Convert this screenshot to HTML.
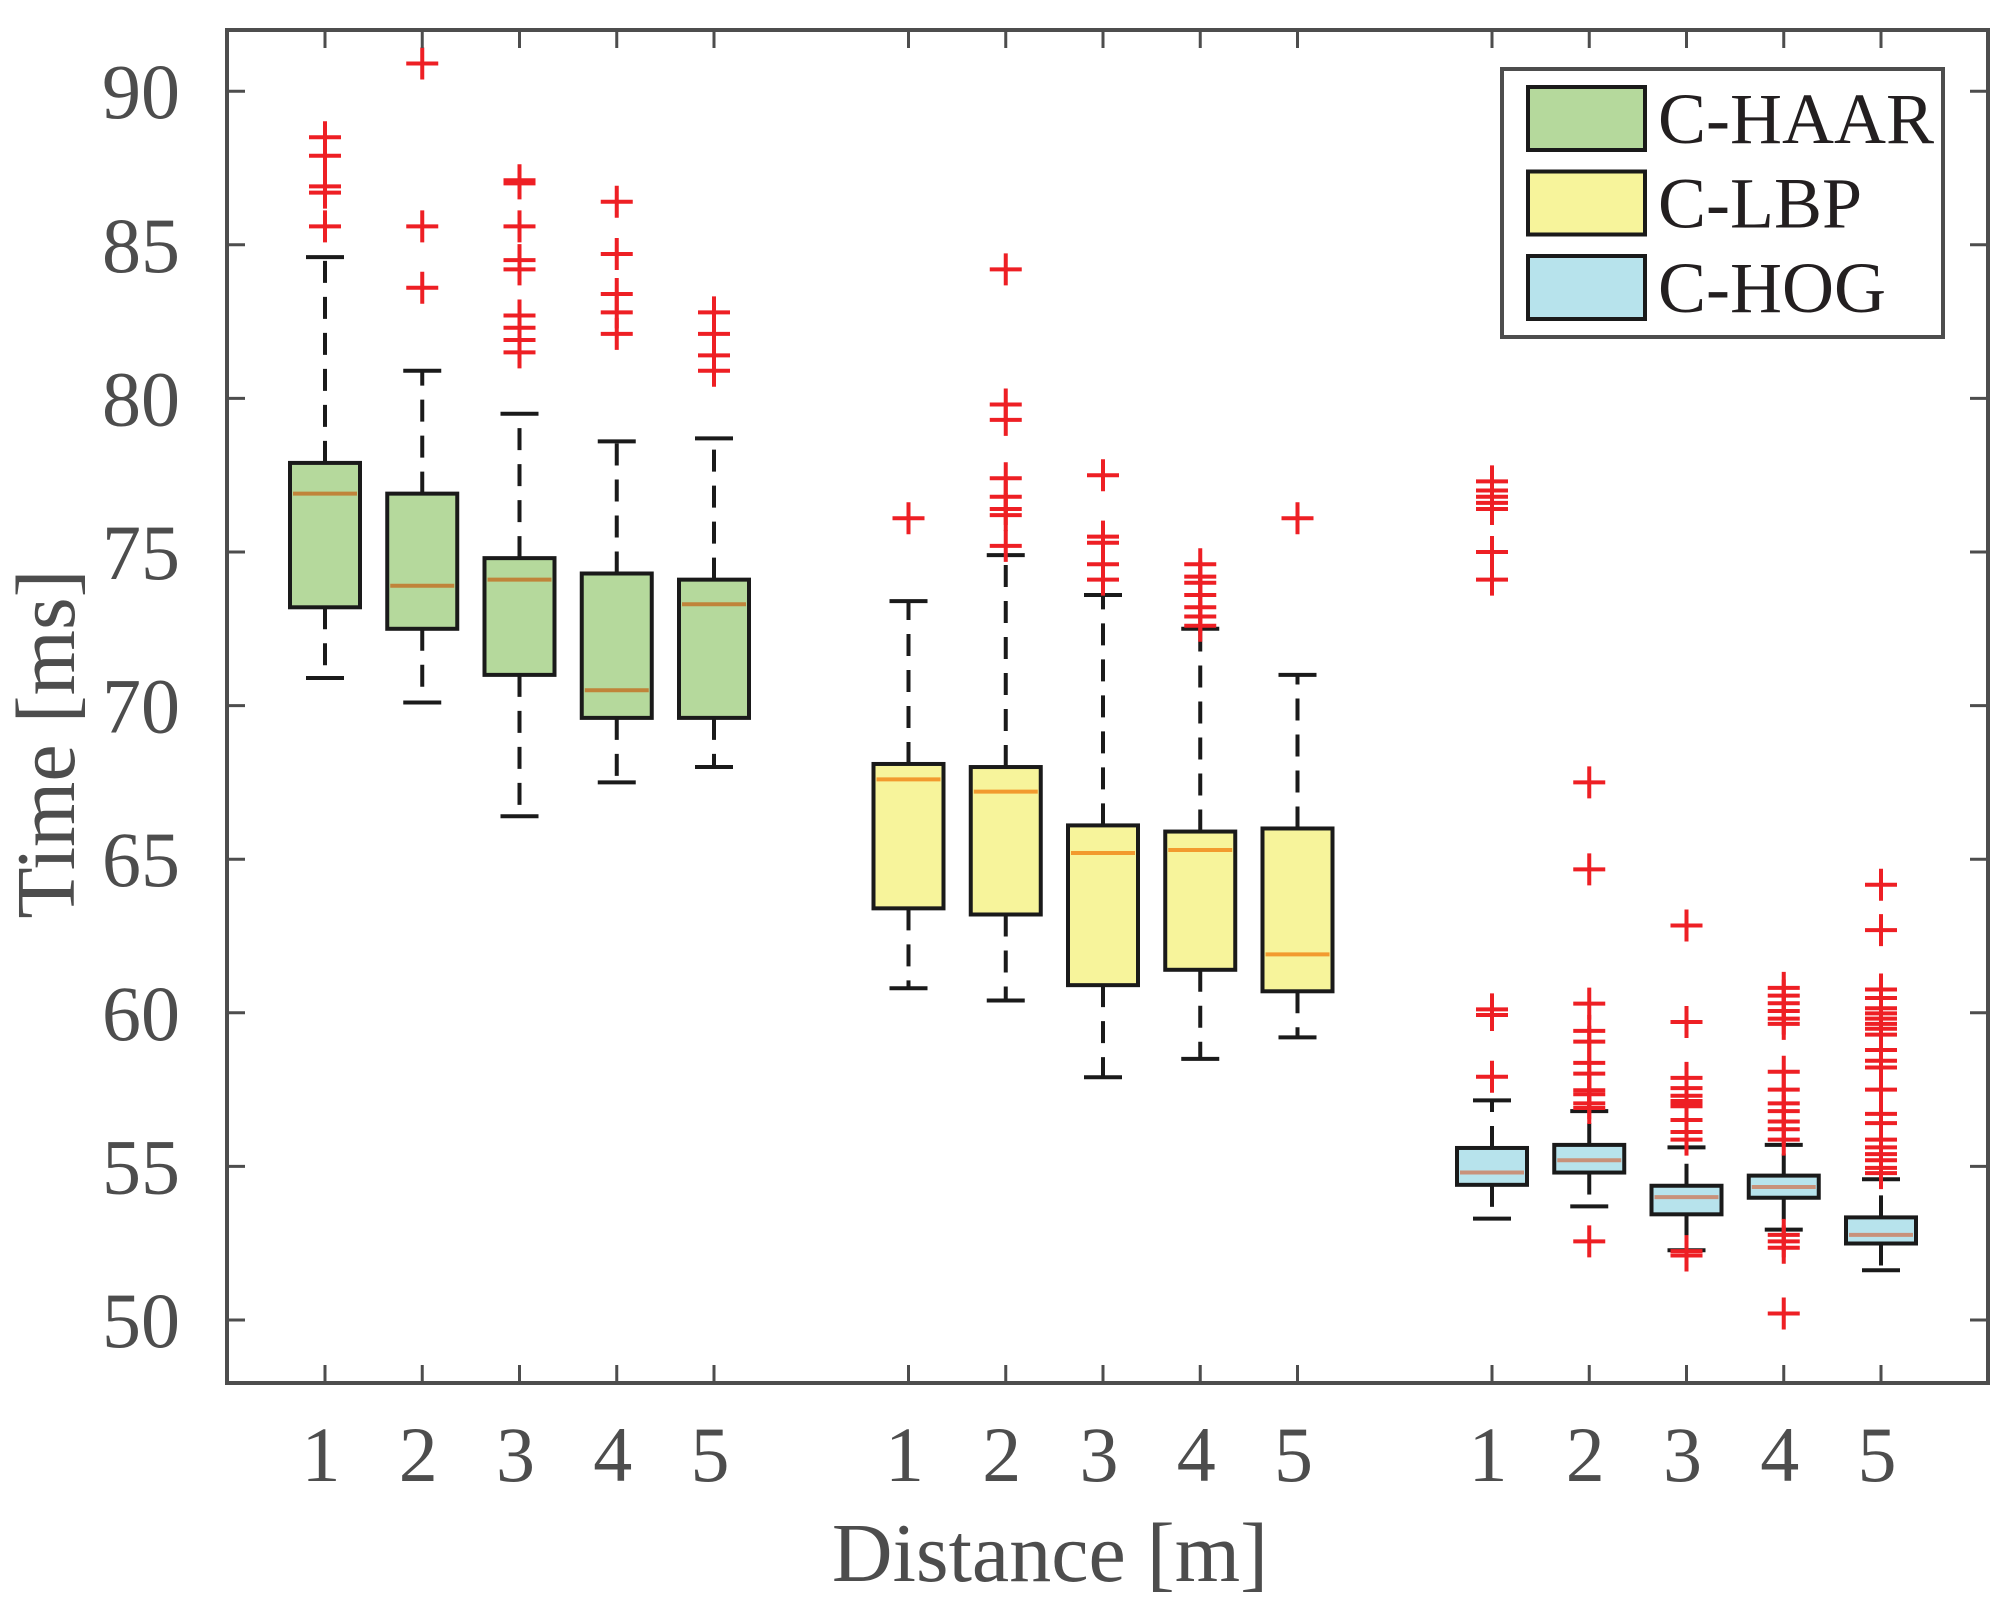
<!DOCTYPE html>
<html><head><meta charset="utf-8"><style>
html,body{margin:0;padding:0;background:#fff;}
svg text{font-family:"Liberation Serif",serif;fill:#4d4d4d;}
</style></head><body>
<svg id="chart" width="1999" height="1607" viewBox="0 0 1999 1607" xmlns="http://www.w3.org/2000/svg">
<rect width="1999" height="1607" fill="#fff"/>
<g id="plot"></g>
</svg>
<script>
const groupNames = ["C-HAAR","C-LBP","C-HOG"];
const xTickLabels = ["1","2","3","4","5"];
const yTicks = [50,55,60,65,70,75,80,85,90];
// each box: [whiskerLow, q1, median, q3, whiskerHigh]
const haarStats = [[70.9,73.2,76.9,77.9,84.6],[70.1,72.5,73.9,76.9,80.9],[66.4,71.0,74.1,74.8,79.5],[67.5,69.6,70.5,74.3,78.6],[68.0,69.6,73.3,74.1,78.7]];
const lbpStats = [[60.8,63.4,67.6,68.1,73.4],[60.4,63.2,67.2,68.0,74.9],[57.9,60.9,65.2,66.1,73.6],[58.5,61.4,65.3,65.9,72.5],[59.2,60.7,61.9,66.0,71.0]];
const hogStats = [[53.3,54.4,54.8,55.6,57.15],[53.7,54.8,55.2,55.7,56.8],[52.27,53.44,54.0,54.37,55.62],[52.94,53.98,54.33,54.7,55.7],[51.62,52.49,52.77,53.34,54.58]];
const haarOutliers = [[85.6,86.7,86.9,87.9,88.5],[83.6,85.6,90.9],[81.5,81.9,82.3,82.7,84.2,84.5,85.6,87.0,87.1],[82.1,82.8,83.4,84.7,86.4],[80.9,81.4,82.1,82.8]];
const lbpOutliers = [[76.1],[75.2,76.2,76.4,76.8,77.4,79.3,79.8,84.2],[74.1,74.6,75.3,75.5,77.5],[72.6,72.9,73.2,73.6,74.0,74.2,74.6],[76.1]];
const hogOutliers = [
 [57.92,59.93,60.11,74.1,75.0,76.4,76.6,76.8,77.0,77.3],
 [52.56,56.9,57.05,57.35,57.48,58.02,58.37,59.06,59.41,60.3,64.67,67.5],
 [52.1,52.24,55.87,56.12,56.51,56.96,57.05,57.13,57.3,57.55,57.88,59.7,62.84],
 [50.21,52.35,52.56,52.77,55.87,56.21,56.46,56.8,57.05,57.5,58.08,59.64,59.81,60.06,60.31,60.56,60.81],
 [54.78,54.95,55.2,55.4,55.62,55.87,56.41,56.71,57.5,58.22,58.44,58.79,59.29,59.48,59.64,59.81,59.98,60.15,60.48,60.76,62.69,64.17]];

const L=227,R=1988,T=30,B=1383;
function xs(p){return 325+(p-1)*97.25;}
function ys(v){return 1320-(v-50)*30.72;}
const NS="http://www.w3.org/2000/svg";
const plot=document.getElementById('plot');
function mk(tag,attrs,parent){const e=document.createElementNS(NS,tag);for(const k in attrs)e.setAttribute(k,attrs[k]);(parent||plot).appendChild(e);return e;}

const fills=["#b5d99c","#f7f49b","#b7e3ec"];
const medCols=["#c0843a","#f29a2e","#c8917a"];
const statsAll=[haarStats,lbpStats,hogStats];
const outAll=[haarOutliers,lbpOutliers,hogOutliers];
const hw=35;
const capw=19;

statsAll.forEach((grp,g)=>{
  grp.forEach((s,i)=>{
    const p=g*6+i+1; const cx=xs(p);
    const G=mk('g',{});
    
    
    mk('line',{x1:cx,x2:cx,y1:ys(s[3]),y2:ys(s[4]),stroke:'#1a1a1a','stroke-width':4,'stroke-dasharray':'22,14'},G);
    mk('line',{x1:cx,x2:cx,y1:ys(s[1]),y2:ys(s[0]),stroke:'#1a1a1a','stroke-width':4,'stroke-dasharray':'22,14'},G);
    mk('line',{x1:cx-capw,x2:cx+capw,y1:ys(s[4]),y2:ys(s[4]),stroke:'#1a1a1a','stroke-width':4},G);
    mk('line',{x1:cx-capw,x2:cx+capw,y1:ys(s[0]),y2:ys(s[0]),stroke:'#1a1a1a','stroke-width':4},G);
    mk('rect',{x:cx-hw,y:ys(s[3]),width:2*hw,height:ys(s[1])-ys(s[3]),fill:fills[g],stroke:'#1a1a1a','stroke-width':4},G);
    mk('line',{x1:cx-hw+3,x2:cx+hw-3,y1:ys(s[2]),y2:ys(s[2]),stroke:medCols[g],'stroke-width':4},G);
    outAll[g][i].forEach(v=>{
      const o=mk('path',{d:`M${cx-16},${ys(v)}H${cx+16}M${cx},${ys(v)-16}V${ys(v)+16}`,stroke:'#ee1f24','stroke-width':4,fill:'none'},G);
      
      
    });
  });
});

const ax=mk('rect',{x:L,y:T,width:R-L,height:B-T,fill:'none',stroke:'#4d4d4d','stroke-width':4});


yTicks.forEach(v=>{
  const y=ys(v);
  mk('line',{x1:L,x2:L+18,y1:y,y2:y,stroke:'#4d4d4d','stroke-width':3});
  mk('line',{x1:R,x2:R-18,y1:y,y2:y,stroke:'#4d4d4d','stroke-width':3});
  const t=mk('text',{x:180,y:y+27,'text-anchor':'end','font-size':78});
  t.textContent=v;
  
  
});
for(let g=0;g<3;g++){xTickLabels.forEach((lab,i)=>{
  const x=xs(g*6+i+1);
  mk('line',{x1:x,x2:x,y1:B,y2:B-18,stroke:'#4d4d4d','stroke-width':3});
  mk('line',{x1:x,x2:x,y1:T,y2:T+18,stroke:'#4d4d4d','stroke-width':3});
  const t=mk('text',{x:x-4,y:1481,'text-anchor':'middle','font-size':78});
  t.textContent=lab;
  
  
});}
const xt=mk('text',{x:1050,y:1581,'text-anchor':'middle','font-size':84});
xt.textContent='Distance [m]';


const yt=mk('text',{x:0,y:0,'text-anchor':'middle','font-size':84,transform:'translate(74,744) rotate(-90)'});
yt.textContent='Time [ms]';



const lg=mk('g',{});


mk('rect',{x:1502,y:69,width:441,height:268,fill:'#fff',stroke:'#4d4d4d','stroke-width':4},lg);
groupNames.forEach((n,i)=>{
  const e=mk('g',{},lg);
  
  
  mk('rect',{x:1528,y:87+i*84.5,width:117,height:63,fill:fills[i],stroke:'#1a1a1a','stroke-width':4},e);
  const t=mk('text',{x:1658,y:143+i*84.5,'font-size':72,style:'fill:#231f20'},e);
  t.textContent=n;
});
</script>
</body></html>
